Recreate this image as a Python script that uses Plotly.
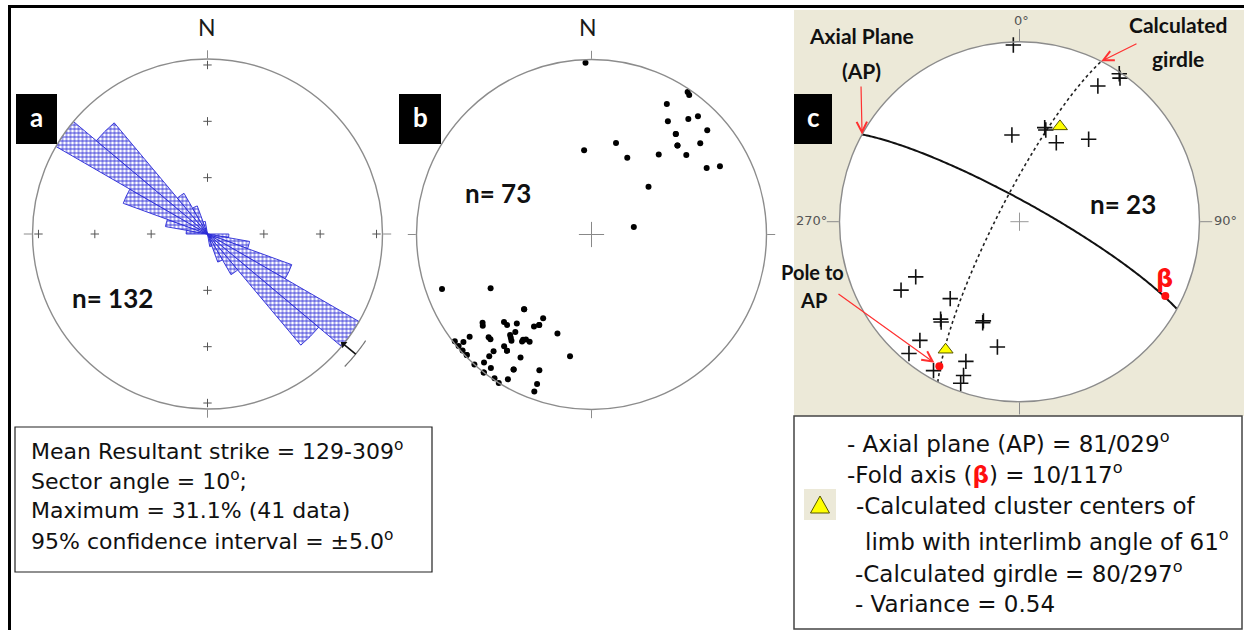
import numpy as np
import plotly.graph_objects as go

W, H = 1244, 630

# ---------------- panel a: strike rose (10 degree sectors, bidirectional)
sector_start = [270, 280, 290, 300, 310, 320, 330, 340]
sector_count = [5, 10, 21, 41, 34, 11, 7, 3]
n_strikes = 132
mean_strike = 129
conf95 = 5.0

# ---------------- panel b: poles (trend / plunge, degrees)
b_trend = [358, 355, 15, 25, 50, 80, 40, 30, 34, 40, 44, 50, 34, 35, 40, 42, 50, 48, 60, 62,
           250, 242, 222, 210, 225, 223, 220, 230, 212, 210, 199, 218, 230, 224, 218, 217,
           213, 212, 210, 232, 230, 230, 228, 226, 218, 216, 220, 220, 210, 190, 222, 220,
           217, 218, 210, 201, 214, 212, 210, 200, 200,
           213, 219, 225, 231, 216, 40, 44, 222, 210, 226, 218, 210]
b_plunge = [2, 50, 45, 50, 55, 70, 40, 15, 23, 26, 30, 30, 2, 3, 15, 10, 20, 12, 25, 18,
            10, 35, 42, 44, 30, 30, 34, 20, 38, 40, 40, 30, 10, 18, 26, 25,
            28, 30, 30, 1, 5, 1, 1, 1, 20, 19, 14, 10, 20, 30, 0, 5,
            5, 0, 12, 18, 1, 0, 5, 10, 5,
            29, 27, 18, 21, 19, 26, 30, 42, 40, 1, 0, 12]

# ---------------- panel c: poles to bedding, fold analysis
c_trend = [358, 34, 35, 30, 15, 16, 355, 25, 40, 242, 240, 222, 218, 219, 200, 200,
           220, 190, 220, 201, 210, 200, 200]
c_plunge = [2, 1, 3, 14, 45, 46, 50, 50, 40, 35, 25, 42, 30, 31, 41, 40,
            15, 30, 5, 18, 5, 10, 5]
cluster_trend = [23, 210]
cluster_plunge = [42, 19]
ap_dipdir, ap_dip = 29, 81
girdle_dipdir, girdle_dip = 297, 80
beta_trend, beta_plunge = 117, 10

# ---------------- geometry of the three nets (pixels)
A_C = (207.5, 234.0, 175.0)
B_C = (591.5, 234.5, 175.0)
C_C = (1019.5, 221.7, 180.0)
A_OUT = 1.12  # outer ring used for the mean-direction marker


def X(px):
    return px / W


def Y(py):
    return 1 - py / H


def domain(c, scale=1.0):
    cx, cy, r = c
    r = r * scale
    return dict(x=[X(cx - r), X(cx + r)], y=[Y(cy + r), Y(cy - r)])


def eq_area(plunge):
    return np.sqrt(2) * np.sin(np.radians(90 - np.asarray(plunge, float)) / 2)


def great_circle(dipdir, dip, n=181):
    t = np.radians(np.linspace(0, 180, n))
    dd, d = np.radians(dipdir), np.radians(dip)
    s = dd - np.pi / 2
    sv = np.array([np.sin(s), np.cos(s), 0.0])
    dv = np.array([np.sin(dd) * np.cos(d), np.cos(dd) * np.cos(d), np.sin(d)])
    v = np.outer(np.cos(t), sv) + np.outer(np.sin(t), dv)
    tr = np.degrees(np.arctan2(v[:, 0], v[:, 1])) % 360
    pl = np.degrees(np.arcsin(np.clip(v[:, 2], -1, 1)))
    return tr, pl


def net_px(c, trend, plunge):
    cx, cy, r = c
    rr = float(eq_area(plunge)) * r
    a = np.radians(trend)
    return cx + rr * np.sin(a), cy - rr * np.cos(a)


fig = go.Figure()

GRAY = "#8c8c8c"
ROSE_BLUE = "#2828d6"

# ---- rose
rmax = max(sector_count) / n_strikes * 100
pct = [c / n_strikes * 100 for c in sector_count]
theta_rose = [s + 5 for s in sector_start] + [s + 185 for s in sector_start]
fig.add_trace(go.Barpolar(
    r=pct + pct, theta=theta_rose, width=[10] * len(theta_rose), subplot="polar",
    marker=dict(color=ROSE_BLUE, line=dict(color=ROSE_BLUE, width=0.9),
                pattern=dict(shape="+", size=4, solidity=0.38, fgcolor=ROSE_BLUE,
                             bgcolor="white", fillmode="replace")),
    hoverinfo="skip"))
# percentage marks along the N-S and E-W axes
mark_r, mark_t = [], []
for t in (0, 90, 180, 270):
    for p in (10, 20, 30):
        mark_r.append(p)
        mark_t.append(t)
fig.add_trace(go.Scatterpolar(
    r=mark_r, theta=mark_t, mode="markers", subplot="polar",
    marker=dict(symbol="cross-thin", size=6, line=dict(color="#555", width=1))))
# mean resultant with 95% confidence arc (outer ring)
arc_t = np.linspace(mean_strike - conf95, mean_strike + conf95, 20)
fig.add_trace(go.Scatterpolar(
    r=[rmax * 1.09] * len(arc_t), theta=arc_t, mode="lines", subplot="polar4",
    line=dict(color="#777", width=1.2)))
fig.add_trace(go.Scatterpolar(
    r=[rmax * 1.09, rmax * 1.0], theta=[mean_strike, mean_strike], mode="lines",
    subplot="polar4", line=dict(color="#111", width=1.6)))
fig.add_trace(go.Scatterpolar(
    r=[rmax * 1.0], theta=[mean_strike], mode="markers", subplot="polar4",
    marker=dict(symbol="triangle-up", size=7, angle=mean_strike + 180 - 360,
                color="#111")))

# ---- panel b
fig.add_trace(go.Scatterpolar(
    r=[0], theta=[0], mode="markers", subplot="polar2",
    marker=dict(symbol="cross-thin", size=18, line=dict(color="#888", width=1))))
fig.add_trace(go.Scatterpolar(
    r=eq_area(b_plunge), theta=b_trend, mode="markers", subplot="polar2",
    cliponaxis=False, marker=dict(symbol="circle", size=6, color="#000")))

# ---- panel c
fig.add_trace(go.Scatterpolar(
    r=[0], theta=[0], mode="markers", subplot="polar3",
    marker=dict(symbol="cross-thin", size=13, line=dict(color="#999", width=1))))
g_t, g_p = great_circle(girdle_dipdir, girdle_dip)
fig.add_trace(go.Scatterpolar(
    r=eq_area(g_p), theta=g_t, mode="lines", subplot="polar3",
    line=dict(color="#222", width=1.6, dash="dot")))
a_t, a_p = great_circle(ap_dipdir, ap_dip)
fig.add_trace(go.Scatterpolar(
    r=eq_area(a_p), theta=a_t, mode="lines", subplot="polar3",
    line=dict(color="#111", width=2)))
fig.add_trace(go.Scatterpolar(
    r=eq_area(c_plunge), theta=c_trend, mode="markers", subplot="polar3",
    cliponaxis=False,
    marker=dict(symbol="cross-thin", size=11, line=dict(color="#111", width=1.6))))
fig.add_trace(go.Scatterpolar(
    r=eq_area(cluster_plunge), theta=cluster_trend, mode="markers", subplot="polar3",
    marker=dict(symbol="triangle-up", size=13, color="#ffff00",
                line=dict(color="#555500", width=1))))
pole_ap = ((ap_dipdir + 180) % 360, 90 - ap_dip)
fig.add_trace(go.Scatterpolar(
    r=eq_area([pole_ap[1], beta_plunge]), theta=[pole_ap[0], beta_trend], mode="markers",
    subplot="polar3", cliponaxis=False,
    marker=dict(symbol="circle", size=8, color="#ff1010")))

# ---- polar axes
def polar_layout(c, rng, ticklen, scale=1.0, bare=False):
    ang = dict(rotation=90, direction="clockwise", showgrid=False)
    if bare:
        ang.update(showline=False, ticks="", showticklabels=False)
    else:
        ang.update(showline=True, linecolor=GRAY, linewidth=1.4,
                   ticks="outside", tickvals=[0, 90, 180, 270], ticklen=ticklen,
                   tickcolor=GRAY, tickwidth=1.2, showticklabels=False)
    return dict(domain=domain(c, scale),
                bgcolor="rgba(0,0,0,0)" if bare else "white",
                radialaxis=dict(visible=False, range=rng),
                angularaxis=ang)


fig.update_layout(
    polar=polar_layout(A_C, [0, rmax], 8),
    polar2=polar_layout(B_C, [0, 1], 8),
    polar3=polar_layout(C_C, [0, 1], 12),
    polar4=polar_layout(A_C, [0, rmax * A_OUT], 0, scale=A_OUT, bare=True),
)

# ---- background, frames, boxes
shapes = [
    dict(type="rect", x0=X(794), x1=X(1244), y0=Y(416), y1=Y(10), fillcolor="#ece9d8",
         line=dict(width=0), layer="below"),
    dict(type="line", x0=X(8), x1=X(1244), y0=Y(6.5), y1=Y(6.5),
         line=dict(color="black", width=3)),
    dict(type="line", x0=X(9.5), x1=X(9.5), y0=Y(5), y1=Y(630),
         line=dict(color="black", width=3)),
    dict(type="rect", x0=X(15), x1=X(432), y0=Y(572), y1=Y(427), fillcolor="white",
         line=dict(color="#222", width=1.2)),
    dict(type="rect", x0=X(794), x1=X(1242), y0=Y(629), y1=Y(416), fillcolor="white",
         line=dict(color="#444", width=1.5)),
    dict(type="rect", x0=X(804), x1=X(836), y0=Y(520), y1=Y(489), fillcolor="#ece9d8",
         line=dict(width=0)),
    dict(type="path",
         path=f"M {X(810.5)},{Y(513)} L {X(829.5)},{Y(513)} L {X(820)},{Y(496)} Z",
         fillcolor="#ffff00", line=dict(color="#555500", width=1)),
]
for x0, x1 in ((16, 57), (399, 441), (794, 832)):
    shapes.append(dict(type="rect", x0=X(x0), x1=X(x1), y0=Y(144), y1=Y(94),
                       fillcolor="black", line=dict(width=0)))
fig.update_layout(shapes=shapes)

ann = []


def txt(x, y, s, size, color="#111", family="Lato", bold=False, xanchor="center"):
    ann.append(dict(x=X(x), y=Y(y), xref="paper", yref="paper", showarrow=False,
                    text=f"<b>{s}</b>" if bold else s, xanchor=xanchor, yanchor="middle",
                    font=dict(size=size, color=color, family=family)))


for xc, lab in ((36.5, "a"), (420, "b"), (813, "c")):
    txt(xc, 117, lab, 26, color="white", bold=True)

txt(207, 27, "N", 23, color="#1a1a1a")
txt(588, 27, "N", 23, color="#1a1a1a")
txt(112, 298, f"n= {n_strikes}", 26, bold=True)
txt(498, 193, f"n= {len(b_trend)}", 26, bold=True)
txt(1123, 204, f"n= {len(c_trend)}", 26, bold=True)

DEG = "<sup>o</sup>"
box_a = [f"Mean Resultant strike = {mean_strike}-{mean_strike + 180}{DEG}",
         f"Sector angle = 10{DEG};",
         f"Maximum = {rmax:.1f}% ({max(sector_count)} data)",
         f"95% confidence interval = \u00b1{conf95:.1f}{DEG}"]
for i, line in enumerate(box_a):
    txt(29, 450 + 30 * i, line, 22, family="DejaVu Sans", xanchor="left")

box_c = [(845, 442, f"- Axial plane (AP) = {ap_dip}/{ap_dipdir:03d}{DEG}"),
         (845, 473, f"-Fold axis (<b><span style='color:#ff1010'>\u03b2</span></b>) = "
                    f"{beta_plunge}/{beta_trend}{DEG}"),
         (854, 506, "-Calculated cluster centers of"),
         (863, 540, f"limb with interlimb angle of 61{DEG}"),
         (853, 572, f"-Calculated girdle = {girdle_dip}/{girdle_dipdir}{DEG}"),
         (853, 604, "- Variance = 0.54")]
for x, y, line in box_c:
    txt(x, y, line, 23, family="DejaVu Sans", xanchor="left")

# net labels in c
txt(1021, 20, "0\u00b0", 13, color="#555", family="DejaVu Sans")
txt(811, 221, "270\u00b0", 13, color="#555", family="DejaVu Sans")
txt(1225, 221, "90\u00b0", 13, color="#555", family="DejaVu Sans")

txt(861, 35, "Axial Plane", 21, bold=True)
txt(861, 70, "(AP)", 21, bold=True)
txt(1178, 25, "Calculated", 21, bold=True)
txt(1178, 58, "girdle", 21, bold=True)
txt(812, 272, "Pole to", 20, bold=True)
txt(813, 300, "AP", 20, bold=True)
bx, by = net_px(C_C, beta_trend, beta_plunge)
txt(bx - 1, by - 17, "\u03b2", 24, color="#ff1010", family="DejaVu Sans", bold=True)

# red pointer arrows
ARROW_RED = "#ff3030"


def pointer(tip, tail, standoff=0):
    ann.append(dict(x=X(tip[0]), y=Y(tip[1]), xref="paper", yref="paper", text="",
                    showarrow=True, ax=tail[0] - tip[0], ay=tail[1] - tip[1],
                    arrowhead=5, arrowsize=1.7, arrowwidth=1.2, arrowcolor=ARROW_RED,
                    standoff=standoff))


pointer(net_px(C_C, ap_dipdir - 90, 0), (861, 85))
pointer(net_px(C_C, girdle_dipdir + 90, 0), (1138, 43))
pointer(net_px(C_C, pole_ap[0], pole_ap[1]), (837, 293), standoff=6)

fig.update_layout(
    annotations=ann, width=W, height=H, margin=dict(l=0, r=0, t=0, b=0),
    paper_bgcolor="white", plot_bgcolor="white", showlegend=False,
)

fig.write_html("out.html")
